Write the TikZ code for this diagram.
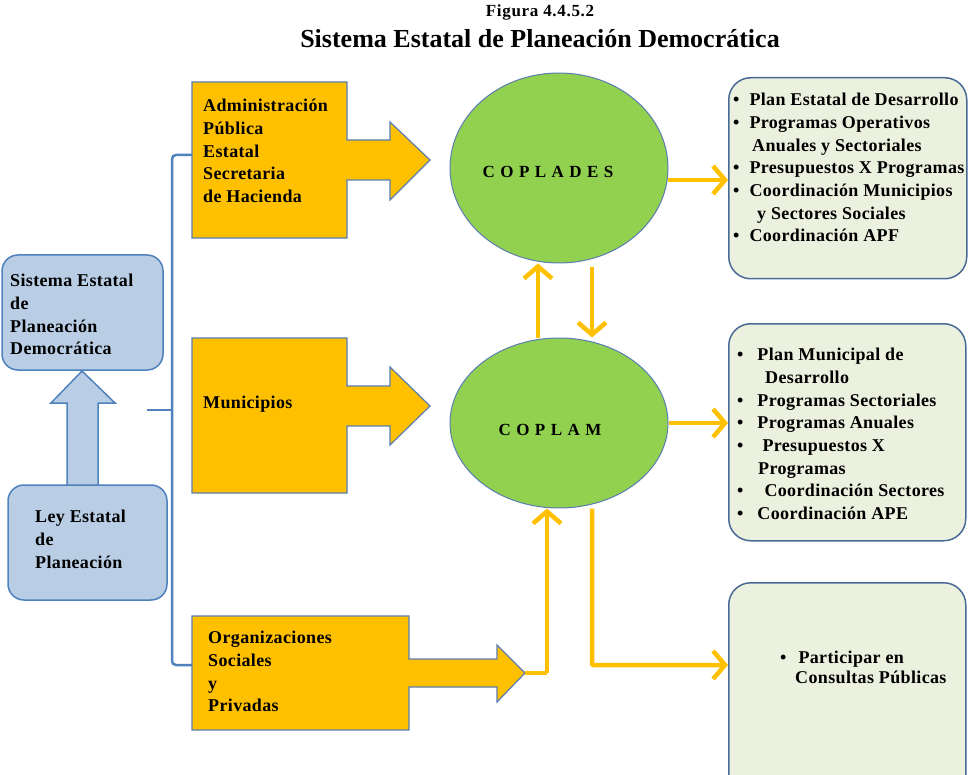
\documentclass[tikz,border=0pt]{standalone}
\usepackage{fontspec}
\setmainfont{Liberation Serif}
\usetikzlibrary{arrows.meta,shapes.geometric,calc}
\definecolor{orng}{HTML}{FFC000}
\definecolor{grn}{HTML}{92D050}
\definecolor{bfill}{HTML}{B9CDE5}
\definecolor{bline}{HTML}{4F81BD}
\definecolor{gfill}{HTML}{EBF1DE}
\definecolor{gline}{HTML}{4A6A96}
\definecolor{obord}{HTML}{5A7DB0}
\tikzset{
  txt/.style={font=\fontsize{18}{22.7}\selectfont\bfseries\addfontfeature{LetterSpace=2}, align=left, inner sep=0pt, anchor=north west, text=black},
  oshape/.style={fill=orng, draw=obord, line width=1.2pt, line join=miter},
  bbox/.style={fill=bfill, draw=bline, line width=1.5pt, rounded corners=16pt},
  gbox/.style={fill=gfill, draw=gline, line width=1.5pt, rounded corners=22pt},
  ell/.style={ellipse, fill=grn, draw=obord, line width=1pt, inner sep=0pt},
  oarrow/.style={draw=orng, line width=4.5pt, -{Straight Barb[length=12pt,width=28pt]}},
  oline/.style={draw=orng, line width=4.5pt},
  bracket/.style={draw=bline, line width=2.5pt, rounded corners=4pt},
  elltxt/.style={font=\fontsize{17}{19}\selectfont\bfseries\addfontfeature{LetterSpace=32}, inner sep=0pt}
}
\begin{document}
\begin{tikzpicture}[x=1pt,y=-1pt]
\useasboundingbox (0,0) rectangle (968,775);
\clip (0,0) rectangle (968,775);
% titles
\node[font=\fontsize{17}{19}\selectfont\bfseries\addfontfeature{LetterSpace=4}] (fig) at (540,12) {Figura 4.4.5.2};
\node[font=\fontsize{26}{30}\selectfont\bfseries] (title) at (540,39) {Sistema Estatal de Planeación Democrática};

% left blue boxes
\draw[bbox] (2,255) rectangle (163,370);
\node[txt] (sis) at (10,274) {Sistema Estatal\\de\\Planeación\\Democrática};
\draw[fill=bfill, draw=bline, line width=1.5pt] (67,485) -- (67,403) -- (51,403) -- (82,371) -- (115,403) -- (98,403) -- (98,485);
\draw[bbox] (8,485) rectangle (167,600);
\node[txt] (ley) at (35,510) {Ley Estatal\\de\\Planeación};

% bracket
\draw[bracket] (192,155) -- (172,155) -- (172,665) -- (192,665);
\draw[bracket] (147,410) -- (172,410);

% orange shapes
\draw[oshape] (192,82) -- (347,82) -- (347,140) -- (390,140) -- (390,122) -- (430,160) -- (390,200) -- (390,180) -- (347,180) -- (347,238) -- (192,238) -- cycle;
\node[txt] (adm) at (203,99) {Administración\\Pública\\Estatal\\Secretaria\\de Hacienda};
\draw[oshape] (192,338) -- (347,338) -- (347,386) -- (390,386) -- (390,367) -- (430,406) -- (390,445) -- (390,426) -- (347,426) -- (347,493) -- (192,493) -- cycle;
\node[txt] (mun) at (203,396) {Municipios};
\draw[oshape] (192,616) -- (409,616) -- (409,659) -- (497,659) -- (497,645) -- (525,673) -- (497,702) -- (497,687) -- (409,687) -- (409,730) -- (192,730) -- cycle;
\coordinate (otip) at (525,673);
\node[txt] (org) at (208,631) {Organizaciones\\Sociales\\y\\Privadas};

% ellipses
\node[ell, minimum width=218pt, minimum height=190pt] (coplades) at (559,168) {};
\node[elltxt] at (548,172) {COPLADES};
\node[ell, minimum width=218pt, minimum height=170pt] (coplam) at (559,423) {};
\node[elltxt] at (550,430) {COPLAM};

% green boxes
\node[gbox, minimum width=238pt, minimum height=201pt, anchor=north west] (g1) at (728,77) {};
\node[gbox, minimum width=237pt, minimum height=217pt, anchor=north west] (g2) at (728,323) {};
\node[gbox, minimum width=237pt, minimum height=230pt, anchor=north west] (g3) at (728,582) {};
\node[txt] (l1) at (733,93) {\textbullet\hspace{10pt}Plan Estatal de Desarrollo\\
\textbullet\hspace{10pt}Programas Operativos\\
\hspace*{19pt}Anuales y Sectoriales\\
\textbullet\hspace{10pt}Presupuestos X Programas\\
\textbullet\hspace{10pt}Coordinación Municipios\\
\hspace*{24pt}y Sectores Sociales\\
\textbullet\hspace{10pt}Coordinación APF};
\node[txt] (l2) at (737,348) {\textbullet\hspace{14pt}Plan Municipal de\\
\hspace*{28pt}Desarrollo\\
\textbullet\hspace{14pt}Programas Sectoriales\\
\textbullet\hspace{14pt}Programas Anuales\\
\textbullet\hspace{19pt}Presupuestos X\\
\hspace*{21pt}Programas\\
\textbullet\hspace{21pt}Coordinación Sectores\\
\textbullet\hspace{14pt}Coordinación APE};
\node[txt, font=\fontsize{18}{20}\selectfont\bfseries\addfontfeature{LetterSpace=2}] (l3) at (780,651) {\textbullet\hspace{12pt}Participar en\\
\hspace*{15pt}Consultas Públicas};

% connectors
\coordinate (ux) at (538,0);
\coordinate (dx) at (592,0);
\coordinate (bx) at (547,0);
\draw[oarrow] (coplam.north -| ux) -- (coplades.south -| ux);
\draw[oarrow, shorten <=4pt] (coplades.south -| dx) -- (coplam.north -| dx);
\coordinate (c1) at ($(coplades.east)+(-1,12)$);
\draw[oarrow] (c1) -- (c1 -| g1.west);
\draw[oarrow] (coplam.east) -- (coplam.east -| g2.west);
\draw[oline] (otip) -- (otip -| bx);
\draw[oarrow] (otip -| bx) -- (coplam.south -| bx);
\coordinate (c3) at (592,665);
\draw[oarrow, rounded corners=1pt] (coplam.south -| dx) -- (c3) -- (c3 -| g3.west);
\end{tikzpicture}
\end{document}
